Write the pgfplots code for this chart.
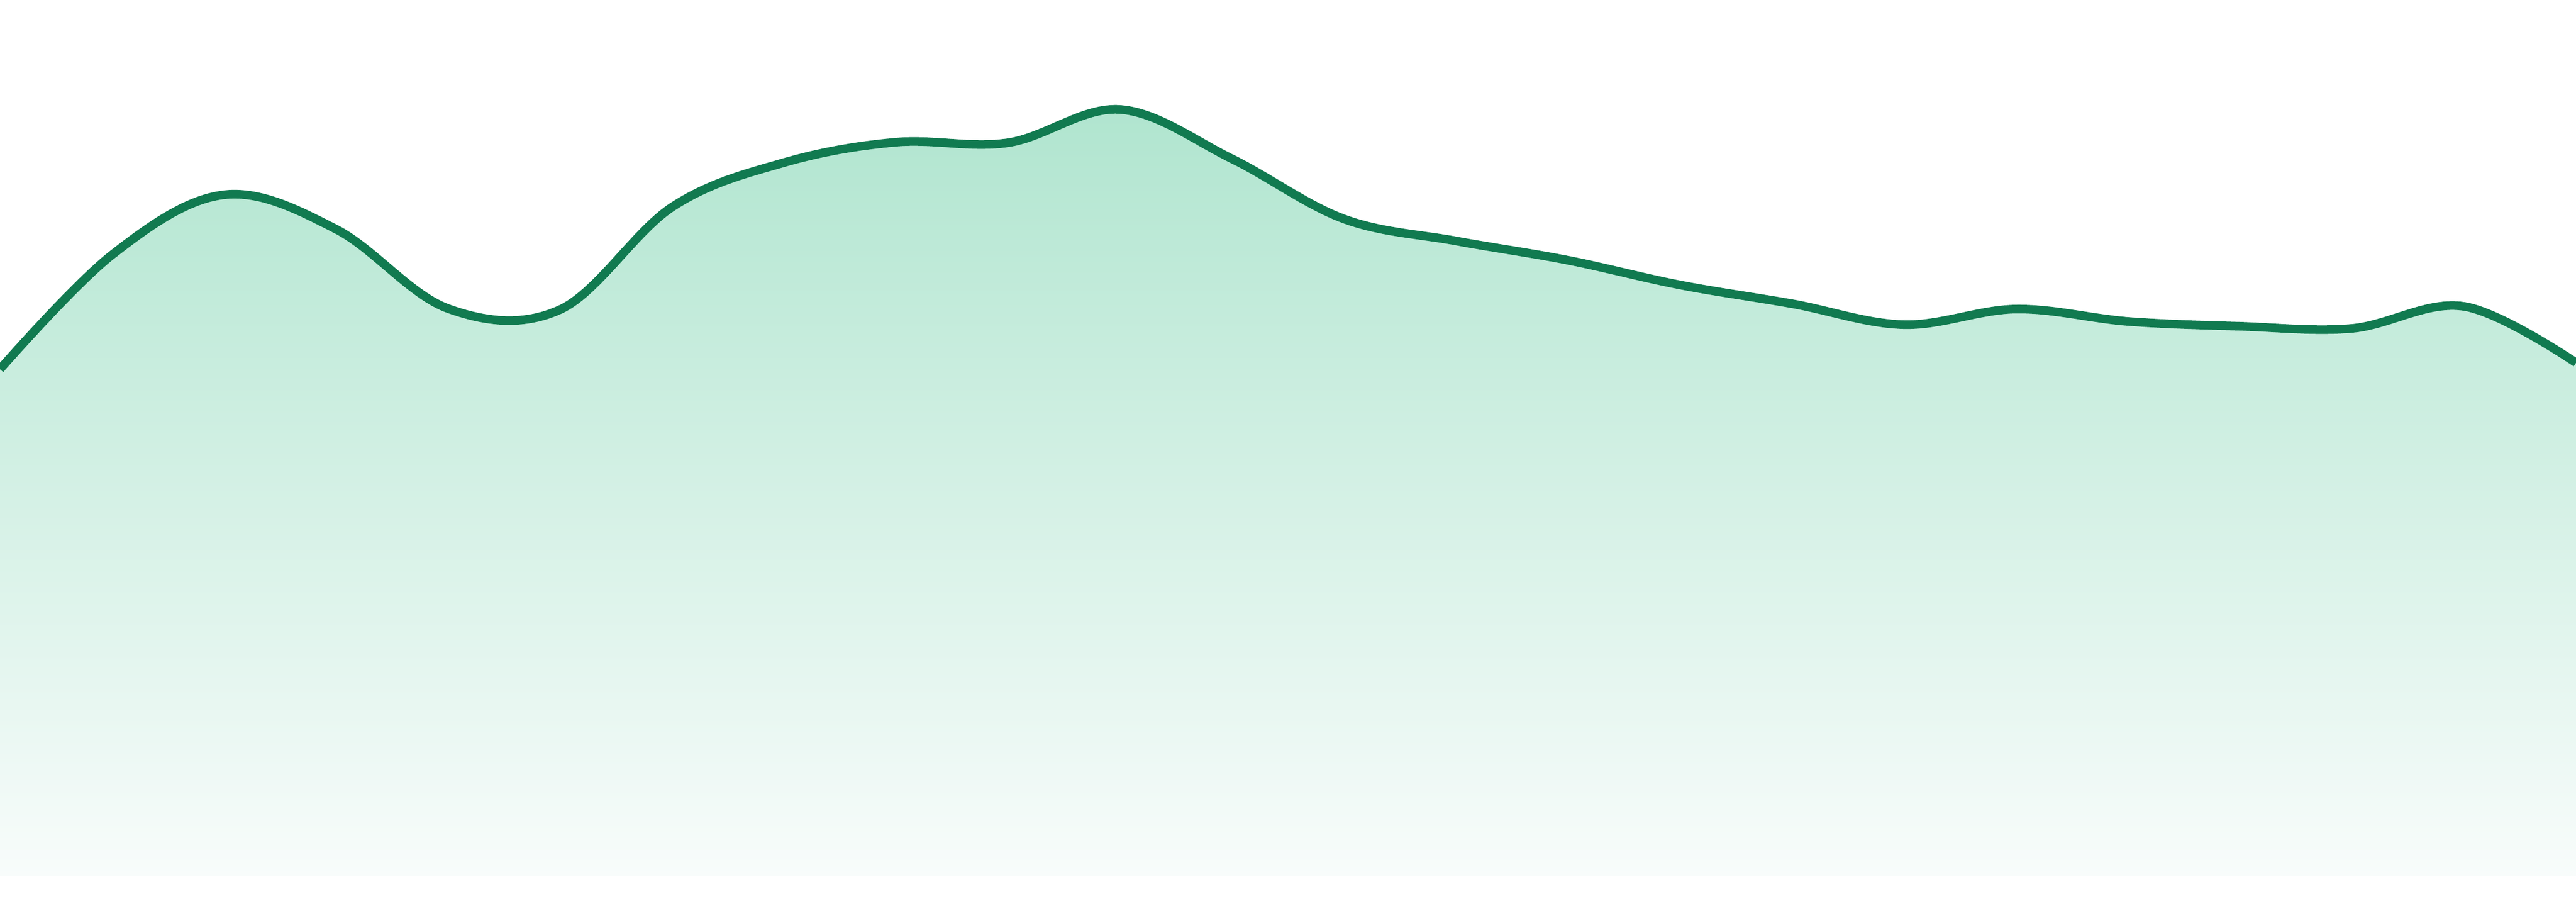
\documentclass[border=0pt]{standalone}
\usepackage{pgfplots}
\pgfplotsset{compat=1.18}

\definecolor{lineGreen}{RGB}{17,122,80}
\definecolor{fillTop}{RGB}{176,229,207}
\definecolor{fillBottom}{RGB}{248,252,251}

\pgfplotstableread{
x y
0 944
1 1157
2 1269
3 1205
4 1057
5 1055
6 1246
7 1329
8 1367
9 1366
10 1428
11 1336
12 1224
13 1183
14 1147
15 1101
16 1066
17 1027
18 1056
19 1033
20 1024
21 1020
22 1061
23 956
}\series

\begin{document}
\begin{tikzpicture}
\begin{axis}[%
  name=ax,%
  width=20cm, height=7cm,%
  scale only axis,%
  hide axis,%
  xmin=0, xmax=23,%
  ymin=-48, ymax=1632,%
  clip=true%
]
\addplot[draw=none, smooth, tension=0.6,
  top color=fillTop, bottom color=fillBottom] table {\series} \closedcycle;
\addplot[lineGreen, line width=1.9pt, smooth, tension=0.6] table {\series};
\end{axis}
\pgfresetboundingbox
\path (ax.south west) rectangle (ax.north east);
\end{tikzpicture}
\end{document}
